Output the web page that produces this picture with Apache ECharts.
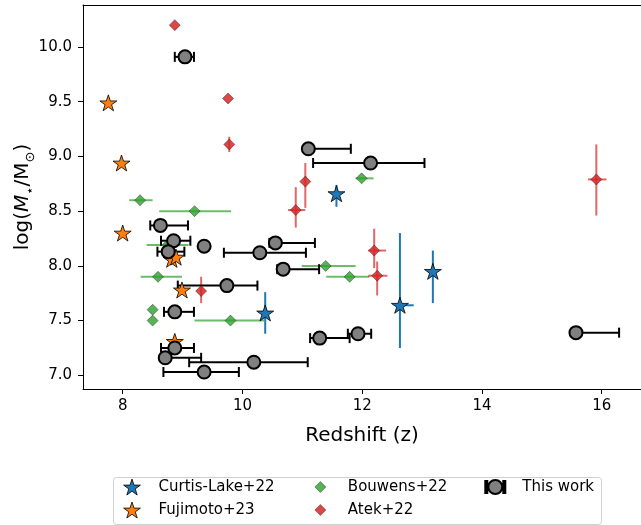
<!DOCTYPE html>
<html>
<head>
<meta charset="utf-8">
<script src="https://cdn.jsdelivr.net/npm/echarts@6/dist/echarts.min.js"></script>
<style>
  html, body { margin: 0; padding: 0; background: #fff; }
  #main { width: 641px; height: 525px; }
</style>
</head>
<body>
<div id="main"></div>
<script>
// 数据: 每组点 (x = redshift, y = log M*)
var xTicks = [8, 10, 12, 14, 16];
var yTicks = [7.0, 7.5, 8.0, 8.5, 9.0, 9.5, 10.0];

// Curtis-Lake+22
var clX = [11.57, 13.18, 12.63, 10.38];
var clY = [8.66, 7.95, 7.64, 7.57];
var clXLo = [0, 0, 0, 0];
var clXHi = [0, 0, 0.23, 0];
var clYLo = [0.12, 0.29, 0.39, 0.19];
var clYHi = [0.08, 0.19, 0.66, 0.19];

// Fujimoto+23
var fjX = [7.76, 7.98, 8.00, 8.82, 8.89, 8.99, 8.87];
var fjY = [9.49, 8.94, 8.30, 8.06, 8.08, 7.78, 7.31];

// Bouwens+22
var bwX = [8.29, 9.20, 11.99, 8.75, 8.59, 11.39, 11.79, 8.50, 8.50, 9.80];
var bwY = [8.60, 8.50, 8.80, 8.19, 7.90, 8.00, 7.90, 7.60, 7.50, 7.50];
var bwXLo = [0.18, 0.59, 0.10, 0.35, 0.29, 0.40, 0.39, 0, 0, 0.60];
var bwXHi = [0.21, 0.61, 0.20, 0.35, 0.40, 0.50, 0.33, 0, 0, 0.56];

// Atek+22
var atX = [8.87, 9.76, 9.78, 11.05, 10.89, 12.20, 12.25, 9.31, 15.91];
var atY = [10.20, 9.53, 9.11, 8.77, 8.51, 8.14, 7.91, 7.77, 8.79];
var atXLo = [0, 0, 0, 0, 0.13, 0.10, 0.15, 0, 0.14];
var atXHi = [0, 0, 0, 0, 0.16, 0.20, 0.17, 0, 0.17];
var atYLo = [0, 0, 0.07, 0.24, 0.16, 0.16, 0.18, 0.11, 0.33];
var atYHi = [0, 0, 0.07, 0.17, 0.21, 0.20, 0.13, 0.13, 0.32];

// This work
var twX = [9.04, 11.10, 12.14, 8.63, 8.85, 9.36, 10.55, 8.76, 10.29, 10.68, 9.74, 8.87, 11.29, 11.93, 15.57, 8.87, 8.71, 10.19, 9.36];
var twY = [9.91, 9.07, 8.94, 8.37, 8.23, 8.18, 8.21, 8.13, 8.12, 7.97, 7.82, 7.58, 7.34, 7.38, 7.39, 7.25, 7.16, 7.12, 7.03];
var twXLo = [0.17, 0, 0.96, 0.17, 0.21, 0, 0.10, 0.18, 0.60, 0.10, 0.82, 0.18, 0.16, 0.17, 0, 0.23, 0.05, 1.08, 0.68];
var twXHi = [0.15, 0.71, 0.90, 0.46, 0.28, 0, 0.66, 0.27, 0.77, 0.60, 0.51, 0.32, 0.50, 0.22, 0.72, 0.32, 0.60, 0.90, 0.58];

var FONT = 'DejaVu Sans';

// 星形 marker
function starPath() {
	var s = '';
	for (var i = 0; i < 10; i++) {
		var r = i % 2 ? 0.382 : 1;
		var a = (-90 + 36 * i) * Math.PI / 180;
		s += (i ? 'L' : 'M') + (r * Math.cos(a)).toFixed(4) + ',' + (r * Math.sin(a)).toFixed(4);
	}
	return 'path://' + s + 'Z';
}
var STAR = starPath();
var DIAMOND = 'path://M0,-1L1,0L0,1L-1,0Z';
var TW_ICON = 'path://M0,2h2v12h-2zM18,2h2v12h-2zM3,8a7,7 0 1,0 14,0a7,7 0 1,0 -14,0z';

function pts(xs, ys) {
	return xs.map(function (x, i) { return [x, ys[i]]; });
}

function zeros(n) {
	var a = [];
	for (var i = 0; i < n; i++) a.push(0);
	return a;
}

// 误差棒 (custom series)
function errSeries(xs, ys, xlo, xhi, ylo, yhi, color, lw, cap) {
	var rows = xs.map(function (x, i) { return [x, ys[i], xlo[i], xhi[i], ylo[i], yhi[i]]; });
	return {
		type: 'custom',
		silent: true,
		clip: false,
		data: rows,
		encode: { x: 0, y: 1 },
		renderItem: function (params, api) {
			var x = api.value(0), y = api.value(1);
			var kids = [];
			var st = { stroke: color, lineWidth: lw };
			if (api.value(2) + api.value(3) > 0) {
				var a = api.coord([x - api.value(2), y]);
				var b = api.coord([x + api.value(3), y]);
				kids.push({ type: 'line', shape: { x1: a[0], y1: a[1], x2: b[0], y2: b[1] }, style: st });
				if (cap) {
					kids.push({ type: 'line', shape: { x1: a[0], y1: a[1] - cap, x2: a[0], y2: a[1] + cap }, style: st });
					kids.push({ type: 'line', shape: { x1: b[0], y1: b[1] - cap, x2: b[0], y2: b[1] + cap }, style: st });
				}
			} else if (cap) {
				var c = api.coord([x, y]);
				kids.push({ type: 'line', shape: { x1: c[0], y1: c[1] - cap, x2: c[0], y2: c[1] + cap }, style: st });
			}
			if (api.value(4) + api.value(5) > 0) {
				var p = api.coord([x, y - api.value(4)]);
				var q = api.coord([x, y + api.value(5)]);
				kids.push({ type: 'line', shape: { x1: p[0], y1: p[1], x2: q[0], y2: q[1] }, style: st });
			}
			return { type: 'group', children: kids };
		}
	};
}

// 图例: 每项单独定位 (matplotlib 按列排)
function legendItem(name, icon, cx, cy, w, h, pad, bw) {
	return {
		left: cx - w / 2, top: cy - 9,
		padding: 0,
		itemWidth: w, itemHeight: h,
		selectedMode: false,
		itemStyle: { borderWidth: bw },
		textStyle: { fontFamily: FONT, fontSize: 15, color: '#000', lineHeight: 18, padding: [0, 0, 0, pad] },
		data: [{ name: name, icon: icon }]
	};
}

var chart = echarts.init(document.getElementById('main'));

var option = {
	animation: false,
	textStyle: { fontFamily: FONT },
	grid: { left: 83, right: 0, top: 5, bottom: 136, containLabel: false, outerBoundsMode: 'none' },
	xAxis: [{
		type: 'value',
		min: 7.337,
		max: 16.656,
		name: 'Redshift (z)',
		nameLocation: 'middle',
		nameGap: 37,
		nameTextStyle: { fontFamily: FONT, fontSize: 20, color: '#000' },
		axisLine: { show: true, lineStyle: { color: '#000', width: 1 } },
		axisTick: { show: true, length: 5, lineStyle: { color: '#000' }, customValues: xTicks },
		axisLabel: { fontFamily: FONT, fontSize: 15, color: '#000', margin: 10, customValues: xTicks },
		splitLine: { show: false }
	}, {
		type: 'value',
		position: 'top',
		min: 7.337,
		max: 16.656,
		axisLine: { show: true, onZero: false, lineStyle: { color: '#000', width: 1 } },
		axisTick: { show: false },
		axisLabel: { show: false },
		splitLine: { show: false }
	}],
	yAxis: {
		type: 'value',
		min: 6.875,
		max: 10.384,
		name: '{a|log(}{b|M}{s|⋆}{a|/M}{s|⊙}{a|)}',
		nameLocation: 'middle',
		nameGap: 50,
		nameMoveOverlap: false,
		nameRotate: 90,
		nameTextStyle: {
			color: '#000',
			rich: {
				a: { fontFamily: FONT, fontSize: 20, color: '#000', lineHeight: 24, verticalAlign: 'bottom' },
				b: { fontFamily: FONT, fontSize: 20, fontStyle: 'italic', color: '#000', lineHeight: 24, verticalAlign: 'bottom' },
				s: { fontFamily: FONT, fontSize: 13, color: '#000', lineHeight: 14, verticalAlign: 'bottom', padding: [0, 0, -4, 0] }
			}
		},
		axisLine: { show: true, onZero: false, lineStyle: { color: '#000', width: 1 } },
		axisTick: { show: true, length: 5, lineStyle: { color: '#000' }, customValues: yTicks },
		axisLabel: {
			fontFamily: FONT, fontSize: 15, color: '#000', margin: 11, customValues: yTicks,
			formatter: function (v) { return v.toFixed(1); }
		},
		splitLine: { show: false }
	},
	legend: [
		legendItem('Curtis-Lake+22', STAR, 131.7, 487, 17, 16, 13, 0.8),
		legendItem('Fujimoto+23', STAR, 131.7, 510, 17, 16, 13, 0.8),
		legendItem('Bouwens+22', DIAMOND, 320, 487, 11, 11, 17, 0.7),
		legendItem('Atek+22', DIAMOND, 320, 510, 11, 11, 17, 0.7),
		legendItem('This work', TW_ICON, 494.3, 487, 20, 16, 12, 2)
	],
	graphic: [{
		type: 'rect',
		left: 111, top: 475,
		shape: { width: 488, height: 47, r: 3 },
		style: { fill: 'none', stroke: '#d0d0d0', lineWidth: 1 },
		z: -1
	}],
	series: [
		errSeries(clX, clY, clXLo, clXHi, clYLo, clYHi, '#1f77b4', 2, 0),
		{
			name: 'Curtis-Lake+22', type: 'scatter', data: pts(clX, clY),
			symbol: STAR, symbolSize: [17, 16],
			itemStyle: { color: '#1f77b4', borderColor: '#000', borderWidth: 0.8, opacity: 1 }
		},
		{
			name: 'Fujimoto+23', type: 'scatter', data: pts(fjX, fjY),
			symbol: STAR, symbolSize: [17, 16],
			itemStyle: { color: '#ff7f0e', borderColor: '#000', borderWidth: 0.8, opacity: 1 }
		},
		errSeries(bwX, bwY, bwXLo, bwXHi, zeros(bwX.length), zeros(bwX.length), 'rgba(44,160,44,0.7)', 2, 0),
		{
			name: 'Bouwens+22', type: 'scatter', data: pts(bwX, bwY),
			symbol: DIAMOND, symbolSize: [11, 11],
			itemStyle: { color: 'rgba(44,160,44,0.8)', borderColor: 'rgba(0,0,0,0.5)', borderWidth: 0.7, opacity: 1 }
		},
		errSeries(atX, atY, atXLo, atXHi, atYLo, atYHi, 'rgba(214,39,40,0.7)', 2, 0),
		{
			name: 'Atek+22', type: 'scatter', data: pts(atX, atY),
			symbol: DIAMOND, symbolSize: [11, 11],
			itemStyle: { color: 'rgba(214,39,40,0.85)', borderColor: 'rgba(0,0,0,0.5)', borderWidth: 0.7, opacity: 1 }
		},
		errSeries(twX, twY, twXLo, twXHi, zeros(twX.length), zeros(twX.length), '#000', 2, 5),
		{
			name: 'This work', type: 'scatter', data: pts(twX, twY),
			symbol: 'circle', symbolSize: 13,
			itemStyle: { color: '#808080', borderColor: '#000', borderWidth: 2, opacity: 1 }
		}
	]
};

chart.setOption(option);
</script>
</body>
</html>
